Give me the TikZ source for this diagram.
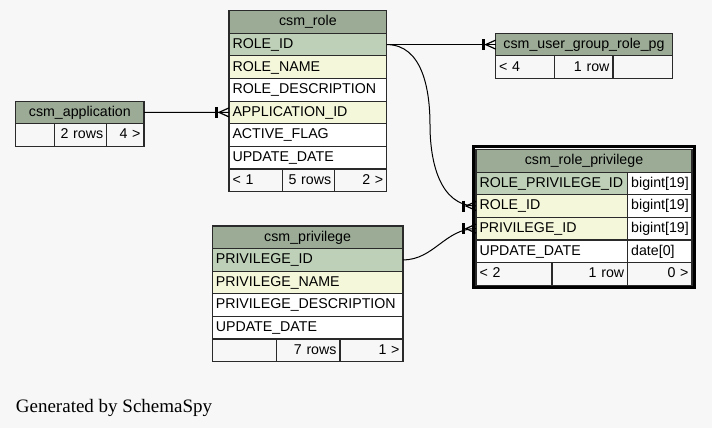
\documentclass[tikz,border=0pt]{standalone}
\usepackage{fontspec}
\setmainfont{Liberation Sans}
\newfontfamily\creditfont{Liberation Serif}
\usepackage{tikz}
\usetikzlibrary{positioning, calc, fit}

\definecolor{headgreen}{HTML}{9BAB96}
\definecolor{keygreen}{HTML}{BED1B8}
\definecolor{idxyellow}{HTML}{F4F7DA}
\definecolor{canvas}{HTML}{F7F7F7}
\definecolor{gridline}{HTML}{2A2A2A}

% crow's foot with a bar, drawn at the entry point of a table
\newcommand{\crowtee}[1]{%
	\draw[line width=2.8pt, shift={(#1)}] (-12.5,-5.5) -- (-12.5,5.5);
	\draw[line width=1.2pt, shift={(#1)}] (0,-4.5) -- (-10,0) -- (0,4.5);
}

\begin{document}
\begin{tikzpicture}[x=1pt, y=-1pt,
	cell/.style={draw=gridline, line width=1.2pt, anchor=north west, outer sep=0pt, inner xsep=3.5pt, inner ysep=0pt, minimum height=22.6pt, text height=10.6pt, text depth=3pt, font=\fontsize{14.2}{16}\selectfont},
	head/.style={cell, fill=headgreen, align=center},
	pk/.style={cell, fill=keygreen, align=left},
	idx/.style={cell, fill=idxyellow, align=left},
	col/.style={cell, fill=white, align=left},
	foot/.style={cell, fill=canvas, align=left},
	footr/.style={cell, fill=canvas, align=right},
	rel/.style={black, line width=1pt}]
	\fill[canvas] (0,0) rectangle (712,428);
	\useasboundingbox (0,0) rectangle (712,428);
	
	% Tables
	% csm_role
	\node[head, text width=150.7pt] (role_head) at (229,10.7) {csm\_role};
	\node[pk, text width=150.7pt] (role_id) at (role_head.south west) {ROLE\_ID};
	\node[idx, text width=150.7pt] (role_name) at (role_id.south west) {ROLE\_NAME};
	\node[col, text width=150.7pt] (role_desc) at (role_name.south west) {ROLE\_DESCRIPTION};
	\node[idx, text width=150.7pt] (role_appid) at (role_desc.south west) {APPLICATION\_ID};
	\node[col, text width=150.7pt] (role_flag) at (role_appid.south west) {ACTIVE\_FLAG};
	\node[col, text width=150.7pt] (role_date) at (role_flag.south west) {UPDATE\_DATE};
	\node[foot, text width=46.3pt] (role_foot1) at (role_date.south west) {< 1};
	\node[footr, text width=45.4pt] (role_foot2) at (role_foot1.north east) {5 rows};
	\node[footr, text width=45pt] (role_foot3) at (role_foot2.north east) {2 >};
	
	% csm_application
	\node[head, text width=121.3pt] (app_head) at (15.7,101.1) {csm\_application};
	\node[foot, text width=32pt] (app_foot1) at (app_head.south west) {};
	\node[footr, text width=45pt] (app_foot2) at (app_foot1.north east) {2 rows};
	\node[footr, text width=30.3pt] (app_foot3) at (app_foot2.north east) {4 >};
	
	% csm_user_group_role_pg
	\node[head, text width=169.6pt] (ugrp_head) at (495.7,33.3) {csm\_user\_group\_role\_pg};
	\node[foot, text width=51.6pt] (ugrp_foot1) at (ugrp_head.south west) {< 4};
	\node[footr, text width=51.7pt] (ugrp_foot2) at (ugrp_foot1.north east) {1 row};
	\node[footr, text width=52.3pt] (ugrp_foot3) at (ugrp_foot2.north east) {};
	
	% csm_role_privilege
	\node[head, text width=209pt] (rp_head) at (476,149.5) {csm\_role\_privilege};
	\node[pk, text width=144.7pt] (rp_rpid) at (rp_head.south west) {ROLE\_PRIVILEGE\_ID};
	\node[col, text width=57.3pt] (rp_rpid_t) at (rp_rpid.north east) {bigint[19]};
	\node[idx, text width=144.7pt] (rp_roleid) at (rp_rpid.south west) {ROLE\_ID};
	\node[col, text width=57.3pt] (rp_roleid_t) at (rp_roleid.north east) {bigint[19]};
	\node[idx, text width=144.7pt] (rp_privid) at (rp_roleid.south west) {PRIVILEGE\_ID};
	\node[col, text width=57.3pt] (rp_privid_t) at (rp_privid.north east) {bigint[19]};
	\node[col, text width=144.7pt] (rp_date) at (rp_privid.south west) {UPDATE\_DATE};
	\node[col, text width=57.3pt] (rp_date_t) at (rp_date.north east) {date[0]};
	\node[foot, text width=69pt] (rp_foot1) at (rp_date.south west) {< 2};
	\node[footr, text width=68.7pt] (rp_foot2) at (rp_foot1.north east) {1 row};
	\node[footr, text width=57.3pt] (rp_foot3) at (rp_foot2.north east) {0 >};
	\node[draw, line width=3pt, inner sep=2.7pt, fit=(rp_head)(rp_foot1)(rp_foot3)] (rp_frame) {};
	
	% csm_privilege
	\node[head, text width=183.7pt] (priv_head) at (212.3,226) {csm\_privilege};
	\node[pk, text width=183.7pt] (priv_id) at (priv_head.south west) {PRIVILEGE\_ID};
	\node[idx, text width=183.7pt] (priv_name) at (priv_id.south west) {PRIVILEGE\_NAME};
	\node[col, text width=183.7pt] (priv_desc) at (priv_name.south west) {PRIVILEGE\_DESCRIPTION};
	\node[col, text width=183.7pt] (priv_date) at (priv_desc.south west) {UPDATE\_DATE};
	\node[foot, text width=57.4pt] (priv_foot1) at (priv_date.south west) {};
	\node[footr, text width=56.3pt] (priv_foot2) at (priv_foot1.north east) {7 rows};
	\node[footr, text width=56pt] (priv_foot3) at (priv_foot2.north east) {1 >};
	
	% Relationships
	\coordinate (roleBend) at (430,125);
	\draw[rel] (app_head.east) -- (role_appid.west);
	\draw[rel] (role_id.east) -- (ugrp_head.west);
	\draw[rel] (role_id.east) to[out=0, in=90] (roleBend) to[out=270, in=180] (rp_roleid.west);
	\draw[rel] (priv_id.east) to[out=0, in=180] (rp_privid.west);
	\crowtee{role_appid.west}
	\crowtee{ugrp_head.west}
	\crowtee{rp_roleid.west}
	\crowtee{rp_privid.west}
	
	\node[anchor=base west, inner sep=0pt, font=\creditfont\fontsize{19}{22}\selectfont] (credit) at (15.7,412) {Generated by SchemaSpy};
\end{tikzpicture}
\end{document}
